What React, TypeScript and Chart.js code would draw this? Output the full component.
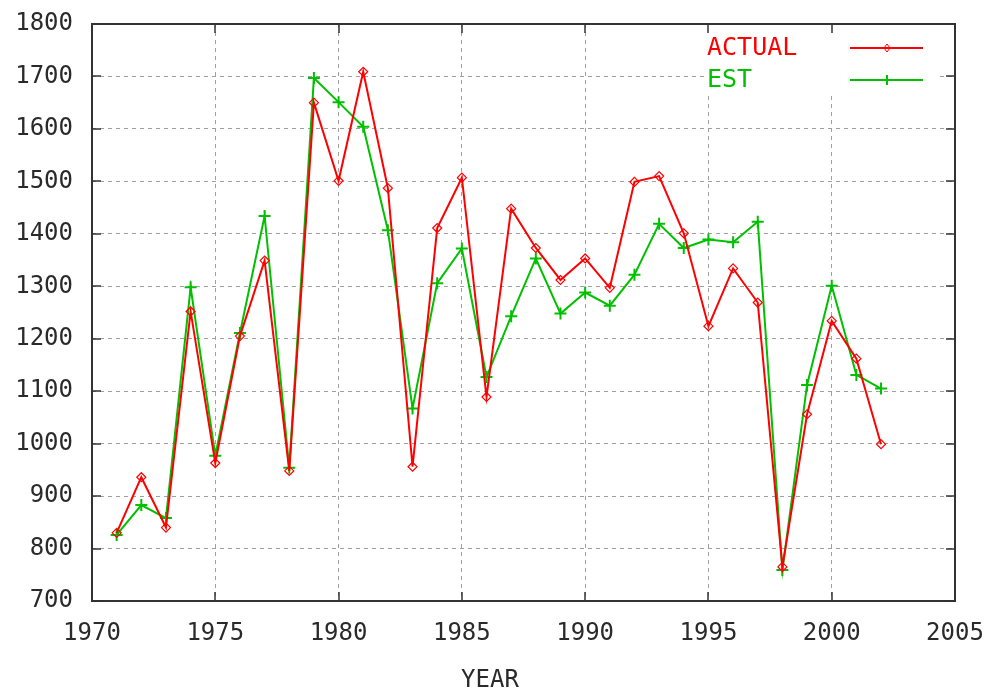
import React, { useEffect, useRef } from 'react';
import { Chart, registerables } from 'chart.js';

Chart.register(...registerables);

const years = [1971, 1972, 1973, 1974, 1975, 1976, 1977, 1978, 1979, 1980, 1981, 1982, 1983, 1984, 1985, 1986, 1987, 1988, 1989, 1990, 1991, 1992, 1993, 1994, 1995, 1996, 1997, 1998, 1999, 2000, 2001, 2002];
const actual = [830, 936, 840, 1252, 963, 1205, 1349, 948, 1650, 1501, 1709, 1487, 956, 1411, 1507, 1089, 1448, 1373, 1312, 1353, 1297, 1499, 1510, 1401, 1224, 1334, 1269, 765, 1056, 1234, 1162, 999];
const est = [826, 883, 858, 1298, 977, 1211, 1434, 954, 1697, 1651, 1604, 1407, 1067, 1306, 1372, 1127, 1243, 1353, 1248, 1288, 1263, 1322, 1419, 1373, 1389, 1384, 1423, 759, 1112, 1301, 1131, 1105];
const xTicks = [1970, 1975, 1980, 1985, 1990, 1995, 2000, 2005];
const yTicks = [700, 800, 900, 1000, 1100, 1200, 1300, 1400, 1500, 1600, 1700, 1800];
const seriesLabels = ['ACTUAL', 'EST'];
const xTitle = 'YEAR';

const RED = '#ff0000';
const GREEN = '#00c000';
const FONT = "'DejaVu Sans Mono', monospace";
const TEXT = '#2a2a2a';

const framePlugin = {
  id: 'gnuFrame',
  beforeDatasetsDraw(chart: any) {
    const { ctx } = chart;
    ctx.save();
    ctx.fillStyle = '#ffffff';
    ctx.fillRect(704, 25, 232, 70);
    ctx.restore();
  },
  afterDatasetsDraw(chart: any) {
    const { ctx, chartArea, scales } = chart;
    const { left, right, top, bottom } = chartArea;
    const x = scales.x;
    const y = scales.y;
    ctx.save();
    ctx.strokeStyle = '#333333';
    ctx.lineWidth = 2;
    ctx.strokeRect(left, top, right - left, bottom - top);
    ctx.lineWidth = 1.5;
    const L = 9;
    const line = (x1: number, y1: number, x2: number, y2: number) => {
      ctx.beginPath();
      ctx.moveTo(x1, y1);
      ctx.lineTo(x2, y2);
      ctx.stroke();
    };
    xTicks.forEach((v) => {
      const px = Math.round(x.getPixelForValue(v));
      line(px, bottom, px, bottom - L);
      line(px, top, px, top + L);
    });
    yTicks.forEach((v) => {
      const py = Math.round(y.getPixelForValue(v));
      line(left, py, left + L, py);
      line(right, py, right - L, py);
    });

    // x axis label
    ctx.font = `24px ${FONT}`;
    ctx.fillStyle = TEXT;
    ctx.textAlign = 'center';
    ctx.textBaseline = 'middle';
    ctx.fillText(xTitle, 490, 681);

    // key
    ctx.font = `25px ${FONT}`;
    ctx.textBaseline = 'middle';
    ctx.textAlign = 'left';
    const rows = [
      { label: seriesLabels[0], color: RED, y: 48, marker: 'diamond' },
      { label: seriesLabels[1], color: GREEN, y: 80, marker: 'plus' },
    ];
    rows.forEach((r) => {
      ctx.fillStyle = r.color;
      ctx.fillText(r.label, 707, r.y);
      ctx.strokeStyle = r.color;
      ctx.lineWidth = 2;
      line(850, r.y, 923, r.y);
      const cx = 887;
      if (r.marker === 'diamond') {
        ctx.lineWidth = 1;
        ctx.beginPath();
        ctx.moveTo(cx, r.y - 4);
        ctx.lineTo(cx + 3, r.y);
        ctx.lineTo(cx, r.y + 4);
        ctx.lineTo(cx - 3, r.y);
        ctx.closePath();
        ctx.stroke();
      } else {
        ctx.lineWidth = 2;
        line(cx, r.y - 5, cx, r.y + 5);
      }
    });
    ctx.restore();
  },
};

export default function App() {
  const ref = useRef<HTMLCanvasElement>(null);
  useEffect(() => {
    const canvas = ref.current;
    if (!canvas) return;
    const chart = new Chart(canvas, {
      type: 'line',
      data: {
        datasets: [
          {
            label: seriesLabels[0],
            data: years.map((yr, i) => ({ x: yr, y: actual[i] })),
            borderColor: RED,
            backgroundColor: 'rgba(0,0,0,0)',
            borderWidth: 2,
            pointStyle: 'rectRot',
            pointRadius: 4.5,
            pointBorderWidth: 1.2,
            pointBorderColor: RED,
            pointBackgroundColor: 'rgba(255,255,255,0)',
            tension: 0,
          },
          {
            label: seriesLabels[1],
            data: years.map((yr, i) => ({ x: yr, y: est[i] })),
            borderColor: GREEN,
            backgroundColor: 'rgba(0,0,0,0)',
            borderWidth: 2,
            pointStyle: 'cross',
            pointRadius: 6,
            pointBorderWidth: 2,
            pointBorderColor: GREEN,
            pointBackgroundColor: GREEN,
            tension: 0,
          },
        ],
      },
      options: {
        responsive: false,
        animation: false,
        layout: { padding: { left: 0, right: 35, top: 24, bottom: 0 } },
        plugins: { legend: { display: false }, tooltip: { enabled: false } },
        scales: {
          x: {
            type: 'linear',
            min: 1970,
            max: 2005,
            afterBuildTicks: (s: any) => {
              s.ticks = xTicks.map((v) => ({ value: v }));
            },
            afterFit: (s: any) => {
              s.height = 90;
              s.paddingLeft = 0;
              s.paddingRight = 0;
              s.paddingTop = 0;
              s.paddingBottom = 0;
            },
            ticks: {
              font: { family: FONT, size: 24 },
              color: TEXT,
              padding: 18,
              maxRotation: 0,
              autoSkip: false,
              callback: (v: any) => String(v),
            },
            grid: { color: '#a0a0a0', lineWidth: 1, drawTicks: false },
            border: { display: false, dash: [4, 4] },
          },
          y: {
            type: 'linear',
            min: 700,
            max: 1800,
            afterBuildTicks: (s: any) => {
              s.ticks = yTicks.map((v) => ({ value: v }));
            },
            afterFit: (s: any) => {
              s.width = 92;
              s.paddingLeft = 0;
              s.paddingRight = 0;
              s.paddingTop = 0;
              s.paddingBottom = 0;
            },
            ticks: {
              font: { family: FONT, size: 24 },
              color: TEXT,
              padding: 19,
              autoSkip: false,
              callback: (v: any) => String(v),
            },
            grid: { color: '#a0a0a0', lineWidth: 1, drawTicks: false },
            border: { display: false, dash: [4, 4] },
          },
        },
      },
      plugins: [framePlugin],
    } as any);
    return () => chart.destroy();
  }, []);
  return (
    <div style={{ position: 'absolute', left: 0, top: 0, width: 990, height: 691, background: '#fff' }}>
      <canvas ref={ref} width={990} height={691} style={{ display: 'block' }} />
    </div>
  );
}
